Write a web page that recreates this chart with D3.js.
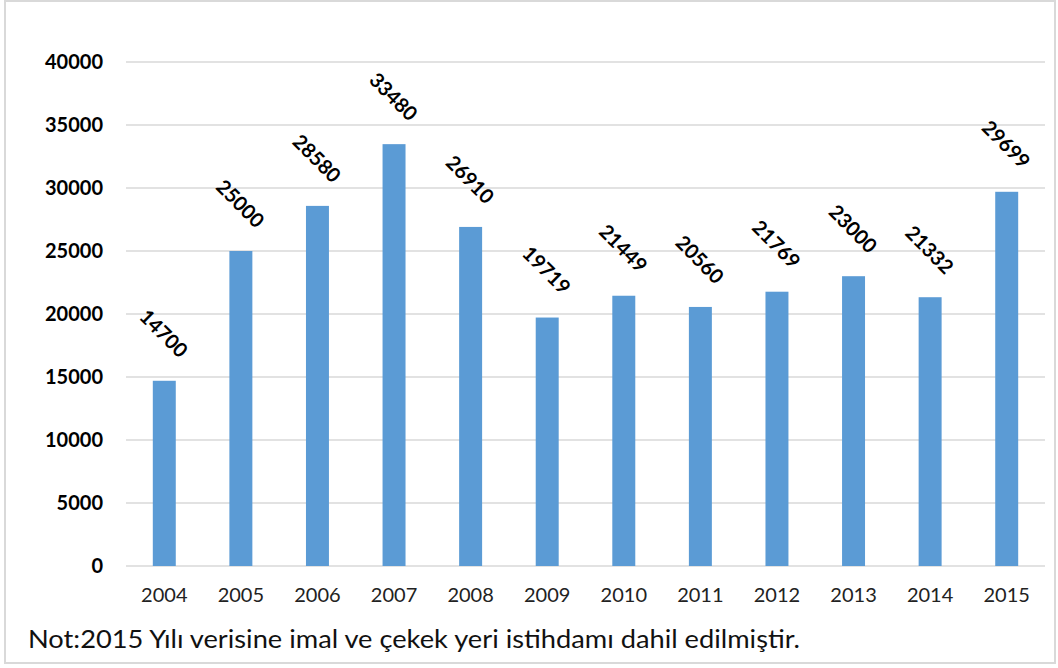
<!DOCTYPE html>
<html>
<head>
<meta charset="utf-8">
<script src="https://cdn.jsdelivr.net/npm/d3@7"></script>
<style>
  body { margin: 0; background: #fff; }
  svg { display: block; font-family: Lato, "Open Sans", sans-serif; }
</style>
</head>
<body>
<svg id="chart" width="1058" height="668"></svg>
<script>
// data
const years = ["2004", "2005", "2006", "2007", "2008", "2009", "2010", "2011", "2012", "2013", "2014", "2015"];
const values = [14700, 25000, 28580, 33480, 26910, 19719, 21449, 20560, 21769, 23000, 21332, 29699];
const yTicks = [0, 5000, 10000, 15000, 20000, 25000, 30000, 35000, 40000];
const note = "Not:2015 Yılı verisine imal ve çekek yeri istihdamı dahil edilmiştir.";

const width = 1058, height = 668;
const margin = { top: 62, right: 13, bottom: 102, left: 126 };

const svg = d3.select("#chart");

// outer frame
svg.append("rect")
    .attr("x", 5).attr("y", 1)
    .attr("width", width - 8).attr("height", height - 6)
    .attr("fill", "none")
    .attr("stroke", "#d9d9d9")
    .attr("stroke-width", 2);

const x = d3.scaleBand()
    .domain(years)
    .range([margin.left, width - margin.right])
    .paddingInner(0.7)
    .paddingOuter(0.35);

const y = d3.scaleLinear()
    .domain([0, 40000])
    .range([height - margin.bottom, margin.top]);

// gridlines
svg.append("g")
    .selectAll("line")
    .data(yTicks)
    .join("line")
    .attr("x1", margin.left)
    .attr("x2", width - margin.right)
    .attr("y1", d => y(d))
    .attr("y2", d => y(d))
    .attr("stroke", "#d9d9d9")
    .attr("stroke-width", 1.3);

// y axis labels
const yAxis = svg.append("g")
    .attr("transform", `translate(${margin.left - 23},0)`)
    .call(d3.axisLeft(y).tickValues(yTicks).tickFormat(d3.format("d")).tickSize(0).tickPadding(0));
yAxis.select(".domain").remove();
yAxis.selectAll("text")
    .attr("font-family", "Lato, 'Open Sans', sans-serif")
    .attr("font-size", 20)
    .attr("font-weight", "bold")
    .attr("fill", "#000");

// x axis labels
const xAxis = svg.append("g")
    .attr("transform", `translate(0,${height - margin.bottom})`)
    .call(d3.axisBottom(x).tickSize(0).tickPadding(22));
xAxis.select(".domain").remove();
xAxis.selectAll("text")
    .attr("font-family", "Lato, 'Open Sans', sans-serif")
    .attr("font-size", 20)
    .attr("fill", "#222");

// bars
svg.append("g")
    .selectAll("rect")
    .data(values)
    .join("rect")
    .attr("x", (d, i) => x(years[i]))
    .attr("y", d => y(d))
    .attr("width", x.bandwidth())
    .attr("height", d => y(0) - y(d))
    .attr("fill", "#5b9bd5");

// rotated value labels
svg.append("g")
    .selectAll("text")
    .data(values)
    .join("text")
    .attr("transform", (d, i) => `translate(${x(years[i]) + x.bandwidth() / 2},${y(d) - 48}) rotate(45)`)
    .attr("text-anchor", "middle")
    .attr("dominant-baseline", "central")
    .attr("font-size", 20)
    .attr("font-weight", "bold")
    .attr("fill", "#000")
    .text(d => d);

// note
svg.append("text")
    .attr("x", 28)
    .attr("y", 648)
    .attr("font-size", 25)
    .attr("fill", "#111")
    .attr("textLength", 772)
    .attr("lengthAdjust", "spacingAndGlyphs")
    .text(note);
</script>
</body>
</html>
